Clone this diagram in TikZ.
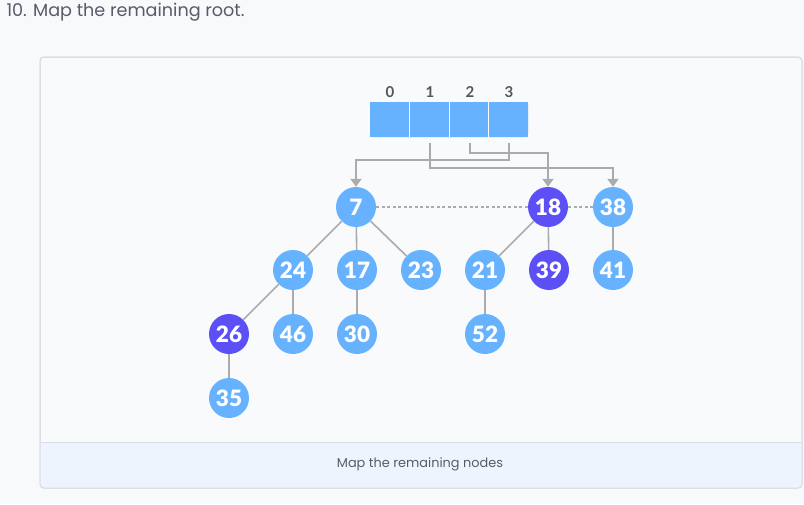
\documentclass[tikz,border=0pt]{standalone}
\usepackage{fontspec}
\setmainfont{Lato}
\newfontfamily\titlefont{Poppins}
\newfontfamily\numfont{Lato Black}
\newfontfamily\idxfont{Lato Bold}
\usetikzlibrary{arrows.meta}
\definecolor{pagebg}{HTML}{F8F9FB}
\definecolor{cardbg}{HTML}{F9FAFC}
\definecolor{cardline}{HTML}{D9DDE4}
\definecolor{capbg}{HTML}{EEF4FD}
\definecolor{lblue}{HTML}{66B2FF}
\definecolor{dpurple}{HTML}{5B4FF5}
\definecolor{edgegray}{HTML}{ABABAB}
\definecolor{titlegray}{HTML}{5A5A6A}
\definecolor{idxgray}{HTML}{555555}
\tikzset{
  hnode/.style={circle, fill=lblue, minimum size=40pt, inner sep=0pt, text=white, font=\numfont\fontsize{22.5}{22.5}\selectfont},
  mnode/.style={hnode, fill=dpurple},
  tedge/.style={draw=edgegray, line width=1.6pt},
  ptr/.style={draw=edgegray, line width=2.4pt, -{Triangle[length=8pt,width=11pt]}},
  cell/.style={fill=lblue, minimum width=39.5pt, minimum height=35pt, inner sep=0pt, draw=none},
  idx/.style={text=idxgray, font=\idxfont\fontsize{15}{15}\selectfont},
}
\begin{document}
\begin{tikzpicture}[x=1pt,y=-1pt]
\useasboundingbox (0,0) rectangle (804,504);
\fill[pagebg] (0,0) rectangle (804,504);
% card
\filldraw[fill=cardbg, draw=cardline, line width=1pt, rounded corners=4pt] (40,57) rectangle (802,488);
\begin{scope}
\clip[rounded corners=4pt] (40,57) rectangle (802,488);
\fill[capbg] (40,442) rectangle (802,488);
\end{scope}
\draw[cardline, line width=1pt] (40,442) -- (802,442);
\draw[cardline, line width=1pt, rounded corners=4pt] (40,57) rectangle (802,488);
\node[anchor=west, text=titlegray, font=\titlefont\fontsize{17.6}{17.6}\selectfont] (title) at (3,12) {10. Map the remaining root.};
\node[text=titlegray, font=\titlefont\fontsize{12.9}{12.9}\selectfont] (cap) at (420,464) {Map the remaining nodes};
% array
\node[cell] (c0) at (390,119.5) {};
\node[cell] (c1) at (429.5,119.5) {};
\node[cell] (c2) at (469,119.5) {};
\node[cell] (c3) at (508.5,119.5) {};
\fill[lblue, rounded corners=3pt] (370,102) rectangle (528,137);
\draw[white, line width=1pt] (409.5,102) -- (409.5,137) (449,102) -- (449,137) (488.5,102) -- (488.5,137);
\node[idx] (i0) at (390,92) {0};
\node[idx] (i1) at (430,92) {1};
\node[idx] (i2) at (470,92) {2};
\node[idx] (i3) at (509,92) {3};
% nodes
\node[hnode] (n7) at (356,207) {7};
\node[mnode] (n18) at (548,207) {18};
\node[hnode] (n38) at (613,207) {38};
\node[hnode] (n24) at (293,270) {24};
\node[hnode] (n17) at (357,270) {17};
\node[hnode] (n23) at (421,270) {23};
\node[hnode] (n21) at (485,270) {21};
\node[mnode] (n39) at (549,270) {39};
\node[hnode] (n41) at (613,270) {41};
\node[mnode] (n26) at (229,334) {26};
\node[hnode] (n46) at (293,334) {46};
\node[hnode] (n30) at (357,334) {30};
\node[hnode] (n52) at (485,334) {52};
\node[hnode] (n35) at (229,398) {35};
% pointer arrows
\coordinate (a1) at (430,143);
\coordinate (a2) at (470,143);
\coordinate (a3) at (509,143);
\draw[ptr] (a1) |- (613,168) -- (n38.north);
\draw[ptr] (a2) |- (548,153) -- (n18.north);
\draw[ptr] (a3) |- (356,160) -- (n7.north);
% root list
\draw[edgegray, line width=1.2pt, dash pattern=on 3pt off 2.5pt] (n7) -- (n18);
\draw[edgegray, line width=1.2pt, dash pattern=on 3pt off 2.5pt] (n18) -- (n38);
% tree edges
\draw[tedge] (n7) -- (n24);
\draw[tedge] (n7) -- (n17);
\draw[tedge] (n7) -- (n23);
\draw[tedge] (n24) -- (n26);
\draw[tedge] (n24) -- (n46);
\draw[tedge] (n17) -- (n30);
\draw[tedge] (n26) -- (n35);
\draw[tedge] (n18) -- (n21);
\draw[tedge] (n18) -- (n39);
\draw[tedge] (n21) -- (n52);
\draw[tedge] (n38) -- (n41);
\end{tikzpicture}
\end{document}
